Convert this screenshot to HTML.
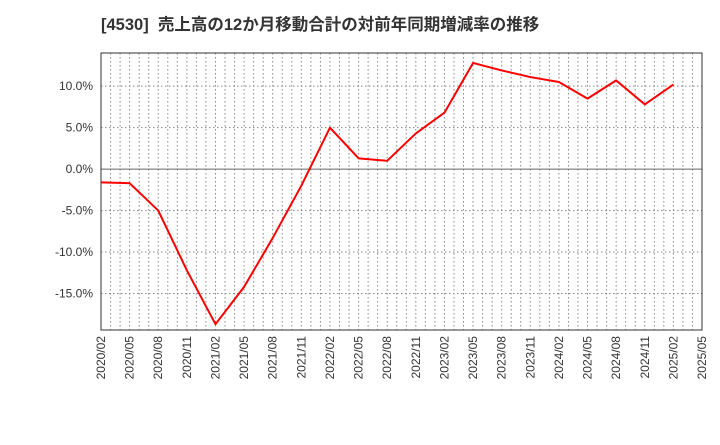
<!DOCTYPE html>
<html><head><meta charset="utf-8"><style>
body{margin:0;background:#fff;}
svg text{font-family:"Liberation Sans","Noto Sans CJK JP",sans-serif;}
</style></head><body>
<svg id="c" width="720" height="440" xmlns="http://www.w3.org/2000/svg">
<text x="101" y="30" font-size="16.5" font-weight="bold" fill="#333" style="white-space:pre">[4530]  売上高の12か月移動合計の対前年同期増減率の推移</text>
</svg>
<script>
const categories=["2020/02","2020/05","2020/08","2020/11","2021/02","2021/05","2021/08","2021/11","2022/02","2022/05","2022/08","2022/11","2023/02","2023/05","2023/08","2023/11","2024/02","2024/05","2024/08","2024/11","2025/02"];
const values=[-1.6,-1.7,-5.0,-12.2,-18.7,-14.2,-8.3,-2.0,5.0,1.3,1.0,4.3,6.8,12.8,11.9,11.1,10.5,8.5,10.7,7.8,10.2];
const xTickLabels=["2020/02","2020/05","2020/08","2020/11","2021/02","2021/05","2021/08","2021/11","2022/02","2022/05","2022/08","2022/11","2023/02","2023/05","2023/08","2023/11","2024/02","2024/05","2024/08","2024/11","2025/02","2025/05"];
const yTicks=[-15,-10,-5,0,5,10];
const yTickLabels=["-15.0%","-10.0%","-5.0%","0.0%","5.0%","10.0%"];
const L=101,R=702,T=53,B=330,yMin=-19.4,yMax=14.0,nMonths=63;
const svg=document.getElementById('c');const NS="http://www.w3.org/2000/svg";
function xm(m){return L+(R-L)*m/nMonths;}
function y(v){return T+(B-T)*(yMax-v)/(yMax-yMin);}
function mk(t,a){const e=document.createElementNS(NS,t);for(const k in a)e.setAttribute(k,a[k]);svg.appendChild(e);return e;}
for(let m=1;m<nMonths;m++){const g=mk('line',{x1:xm(m),x2:xm(m),y1:T,y2:B,stroke:'#888','stroke-dasharray':'1.5,2.5','stroke-width':1});

}
yTicks.forEach((v,i)=>{const g=mk('line',{x1:L,x2:R,y1:y(v),y2:y(v),stroke:v===0?'#666':'#888','stroke-dasharray':v===0?'':'1.5,2.5','stroke-width':1});


const t=mk('text',{x:L-8,y:y(v)+4,'text-anchor':'end','font-size':12,fill:'#333'});t.textContent=yTickLabels[i];

});
xTickLabels.forEach((s,i)=>{const x=xm(i*3);const t=mk('text',{x:0,y:0,'text-anchor':'end','font-size':12,fill:'#333',transform:`translate(${x+4},${B+6}) rotate(-90)`});t.textContent=s;

});
const fr=mk('rect',{x:L,y:T,width:R-L,height:B-T,fill:'none',stroke:'#333','stroke-width':1});


const pts=values.map((v,i)=>xm(i*3)+','+y(v)).join(' ');
const ln=mk('polyline',{points:pts,fill:'none',stroke:'#f00','stroke-width':2,'stroke-linejoin':'round'});


</script>
</body></html>
